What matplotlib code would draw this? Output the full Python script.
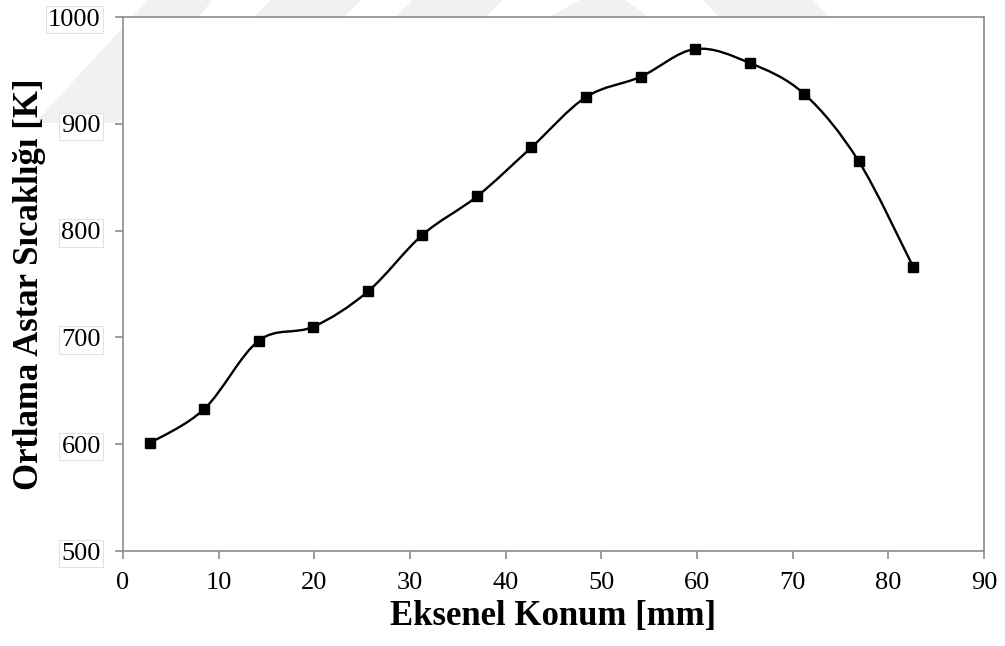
import numpy as np
import matplotlib.pyplot as plt
from matplotlib.path import Path
from matplotlib.patches import PathPatch, Polygon

plt.rcParams['font.family'] = ['Liberation Serif', 'DejaVu Serif']

# axial position [mm] and mean liner temperature [K]
konum = [2.8, 8.5, 14.2, 19.9, 25.6, 31.3, 37.0, 42.7, 48.4, 54.1, 59.8, 65.5, 71.2, 76.9, 82.6]
sicaklik = [601, 633, 697, 710, 743, 796, 832, 878, 925, 944, 970, 957, 928, 865, 766]

x_ticks = [0, 10, 20, 30, 40, 50, 60, 70, 80, 90]
y_ticks = [500, 600, 700, 800, 900, 1000]


def smooth_path(xs, ys):
    # Catmull-Rom style cubic Bezier through every point (spreadsheet "smoothed line")
    p = np.column_stack([xs, ys]).astype(float)
    p_ext = np.vstack([p[0], p, p[-1]])
    verts = [p[0]]
    codes = [Path.MOVETO]
    for i in range(1, len(p_ext) - 2):
        p0, p1, p2, p3 = p_ext[i - 1], p_ext[i], p_ext[i + 1], p_ext[i + 2]
        c1 = p1 + (p2 - p0) / 6.0
        c2 = p2 - (p3 - p1) / 6.0
        verts += [c1, c2, p2]
        codes += [Path.CURVE4] * 3
    return Path(verts, codes)


fig = plt.figure(figsize=(10.05, 6.46), dpi=100)

# faint background watermark bands (figure pixel coords), hidden behind the axes
W, H = 1005, 646
bands = [
    [(148, 0), (212, 0), (118, 123), (35, 123)],
    [(271, 0), (361, 0), (300, 60), (210, 60)],
    [(413, 0), (503, 0), (442, 60), (352, 60)],
    [(535, 25), (580, 0), (625, 0), (660, 25)],
    [(703, 0), (813, 0), (870, 60), (760, 60)],
]
for b in bands:
    pts = [(bx / W, 1 - by / H) for bx, by in b]
    fig.patches.append(Polygon(pts, closed=True, transform=fig.transFigure,
                               facecolor='#f1f1f1', edgecolor='none', zorder=-5))

ax = fig.add_axes([123 / W, 1 - 551 / H, 861 / W, 534 / H])
ax.set_zorder(2)

ax.add_patch(PathPatch(smooth_path(konum, sicaklik), facecolor='none',
                       edgecolor='black', lw=1.7, zorder=3))
ax.plot(konum, sicaklik, linestyle='none', marker='s', color='black',
        markersize=6.5, zorder=4)

ax.set_xlim(0, 90)
ax.set_ylim(500, 1000)
ax.set_xticks(x_ticks)
ax.set_yticks(y_ticks)

for s in ax.spines.values():
    s.set_color('#8c8c8c')
    s.set_linewidth(1.2)

ax.tick_params(axis='both', direction='out', length=6, width=1.2,
               color='#8c8c8c', labelsize=19)
ax.tick_params(axis='x', pad=9)
ax.tick_params(axis='y', pad=10)

for lbl in ax.get_yticklabels():
    lbl.set_bbox(dict(facecolor='white', edgecolor='#e2e2e2', linewidth=0.8,
                      boxstyle='square,pad=0.1'))

ax.set_xlabel('Eksenel Konum [mm]', fontsize=25, fontweight='bold')
ax.xaxis.set_label_coords(0.5, -66 / 534, transform=ax.transAxes)
ax.set_ylabel('Ortlama Astar Sıcaklığı [K]', fontsize=25, fontweight='bold')
ax.yaxis.set_label_coords(-93 / 861, 0.5, transform=ax.transAxes)
ax.yaxis.label.set_va('center')
ax.xaxis.label.set_va('center')

fig.savefig('out.png', dpi=100)
